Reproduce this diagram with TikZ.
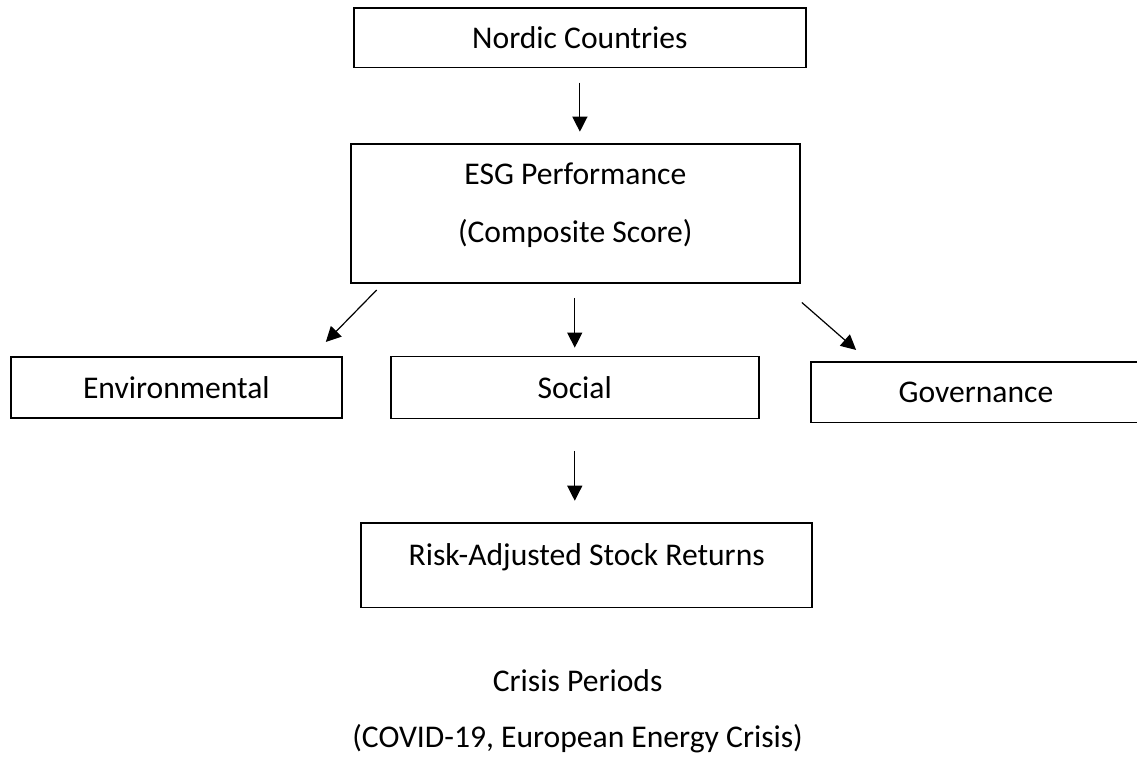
\documentclass[tikz,border=0pt]{standalone}
\usepackage{fontspec}
\setmainfont{Carlito}
\usepackage{tikz}
\usetikzlibrary{arrows.meta}
\tikzset{
	fwbox/.style={draw, line width=0.9pt, inner sep=0pt, font=\fontsize{15.8}{19}\selectfont},
	fwarr/.style={-{Triangle[length=7.5pt, width=7.5pt]}, line width=0.6pt},
}

\begin{document}
\begin{tikzpicture}[
		fwtext/.style={font=\fontsize{15.8}{19}\selectfont, align=center}
	]
	\useasboundingbox (0,0) rectangle (19.98,13.30);

	\node[fwbox, minimum width=7.94cm, minimum height=1.05cm] (nordic) at (10.19,12.64) {Nordic Countries};
	\node[fwbox, align=center, minimum width=7.89cm, minimum height=2.44cm, text depth=11pt] (esg) at (10.11,9.55)
		{ESG Performance\\[10pt](Composite Score)};

	% the three pillars; Governance runs off the right edge
	\node[fwbox, minimum width=5.82cm, minimum height=1.07cm] (env) at (3.10,6.49) {Environmental};
	\node[fwbox, minimum width=6.47cm, minimum height=1.09cm] (soc) at (10.10,6.49) {Social};
	\node[fwbox, minimum width=5.80cm, minimum height=1.07cm] (gov) at (17.15,6.41) {Governance};

	\node[fwbox, minimum width=7.93cm, minimum height=1.49cm, text height=11pt, text depth=11pt] (risk) at (10.31,3.37)
		{Risk-Adjusted Stock Returns};
	\node[fwtext] (crisis) at (10.15,0.81) {Crisis Periods\\[9pt](COVID-19, European Energy Crisis)};

	% arrows stop short of the boxes
	\draw[fwarr, shorten <=0.25cm, shorten >=0.2cm] (nordic.south) -- (nordic.south |- esg.north);
	\draw[fwarr] ([xshift=0.47cm,yshift=-0.11cm]esg.south west) -- ([xshift=-0.30cm,yshift=0.25cm]env.north east);
	\draw[fwarr, shorten <=0.25cm, shorten >=0.14cm] (soc.north |- esg.south) -- (soc.north);
	\draw[fwarr] ([xshift=0.02cm,yshift=-0.33cm]esg.south east) -- ([xshift=0.81cm,yshift=0.19cm]gov.north west);
	\draw[fwarr, shorten <=0.55cm, shorten >=0.37cm] (soc.south) -- (soc.south |- risk.north);
\end{tikzpicture}
\end{document}
